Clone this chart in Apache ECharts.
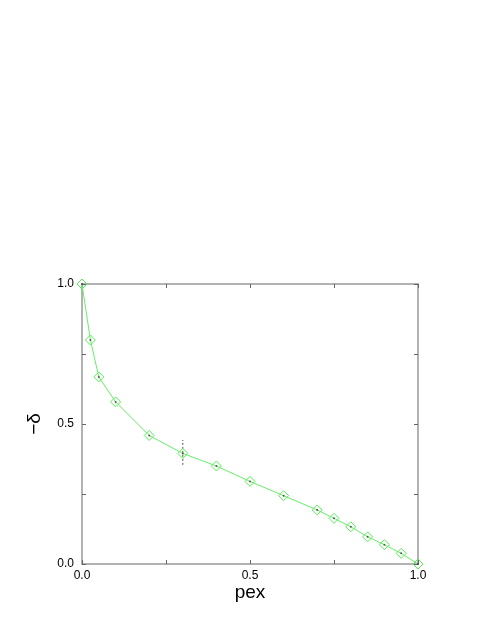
<!DOCTYPE html>
<html><head><meta charset="utf-8">
<script src="https://cdn.jsdelivr.net/npm/echarts@6/dist/echarts.min.js"></script>
<style>html,body{margin:0;padding:0;background:#fff}#c{width:491px;height:635px}</style>
</head><body><div id="c"></div>
<script>
const pex = [0, 0.025, 0.05, 0.1, 0.2, 0.3, 0.4, 0.5, 0.6, 0.7, 0.75, 0.8, 0.85, 0.9, 0.95, 1.0];
const delta = [1.0, 0.80, 0.668, 0.579, 0.459, 0.395, 0.35, 0.295, 0.244, 0.193, 0.163, 0.133, 0.097, 0.069, 0.038, 0.0];
const errX = 0.3;
const errLow = 0.354;
const errHigh = 0.443;
const tickLabels = ['0.0', '0.5', '1.0'];

const pts = pex.map((x, i) => [x, delta[i]]);
const axisCol = '#999';
const font = 'Liberation Sans, Arial, sans-serif';
function axis(pos, show, name, isX){
  return {
    type: 'value', min: 0, max: 1, interval: 0.25, position: pos,
    name: show ? name : '', nameLocation: 'middle',
    nameGap: isX ? 17 : 38, nameRotate: isX ? 0 : 90,
    nameTextStyle: { fontFamily: font, fontSize: 19, color: '#000' },
    axisLine: { show: true, onZero: false, lineStyle: { color: axisCol, width: 1.5 } },
    axisTick: { show: true, inside: true, length: 4, lineStyle: { color: '#666' } },
    splitLine: { show: false },
    axisLabel: { show: show, fontFamily: font, fontSize: 12, color: '#000', margin: isX ? 6 : 8,
      formatter: v => { const s = v.toFixed(1); return tickLabels.indexOf(s) >= 0 && Math.abs(v*2 - Math.round(v*2)) < 1e-6 ? s : ''; } }
  };
}
const chart = echarts.init(document.getElementById('c'));
chart.setOption({
  animation: false,
  grid: { left: 82, right: 73, top: 284, bottom: 71 },
  xAxis: [axis('bottom', true, 'pex', true), axis('top', false, '', true)],
  yAxis: [axis('left', true, '\u2212\u03b4', false), axis('right', false, '', false)],
  series: [
    { type: 'line', data: [[errX, errLow], [errX, errHigh]], symbol: 'none',
      lineStyle: { color: '#555', width: 1, type: [2, 2] }, z: 1 },
    { type: 'line', data: pts, symbol: 'diamond', symbolSize: 10,
      lineStyle: { color: '#66ee66', width: 1 },
      itemStyle: { color: 'rgba(255,255,255,0)', borderColor: '#55ee55', borderWidth: 1 }, z: 2 },
    { type: 'scatter', data: pts, symbol: 'circle', symbolSize: 2,
      itemStyle: { color: '#333' }, z: 3 }
  ]
});
</script></body></html>
